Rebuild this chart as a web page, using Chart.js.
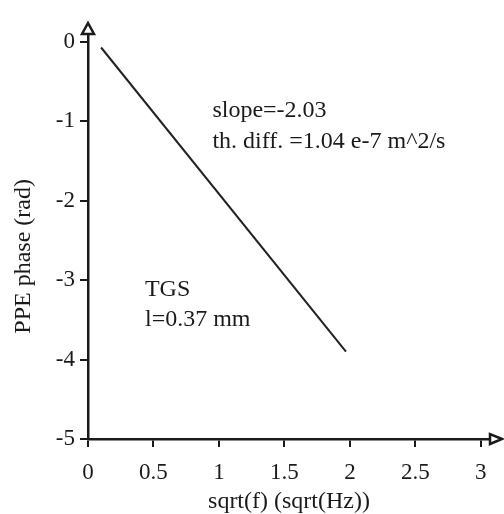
<!DOCTYPE html>
<html>
<head>
<meta charset="utf-8">
<script src="https://cdn.jsdelivr.net/npm/chart.js@4/dist/chart.umd.min.js"></script>
<style>
  html, body { margin: 0; padding: 0; background: #fff; }
  #wrap { width: 504px; height: 514px; }
</style>
</head>
<body>
<div id="wrap"><canvas id="chart-phase"></canvas></div>
<script>
// data
const sqrtFreq = [0.1, 1.97];
const phase = [-0.07, -3.9];
const xTicks = [0, 0.5, 1, 1.5, 2, 2.5, 3];
const xTickLabels = ['0', '0.5', '1', '1.5', '2', '2.5', '3'];
const yTicks = [0, -1, -2, -3, -4, -5];
const yTickLabels = ['0', '-1', '-2', '-3', '-4', '-5'];
const yTitle = 'PPE phase (rad)';
const notes = [
    { x: 0.95, y: -0.86, text: 'slope=-2.03' },
    { x: 0.95, y: -1.26, text: 'th. diff. =1.04 e-7 m^2/s' },
    { x: 0.435, y: -3.12, text: 'TGS' },
    { x: 0.435, y: -3.5, text: 'l=0.37 mm' }
];

const FONT = '"Liberation Serif", "Times New Roman", serif';
const INK = '#1a1a1a';

// arrow heads on the axes, y title (sits a bit low in the original) and notes
const decorations = {
    id: 'decorations',
    afterDraw(chart) {
        const c = chart.ctx;
        const a = chart.chartArea;
        const xs = chart.scales.x, ys = chart.scales.y;
        c.save();
        c.strokeStyle = INK;
        c.lineWidth = 2.5;
        c.fillStyle = '#fff';
        // y arrow
        c.beginPath();
        c.moveTo(a.left, a.top - 11);
        c.lineTo(a.left - 6, a.top);
        c.lineTo(a.left + 6, a.top);
        c.closePath();
        c.fill();
        c.stroke();
        // x arrow
        c.beginPath();
        c.moveTo(a.right + 12, a.bottom);
        c.lineTo(a.right, a.bottom - 5);
        c.lineTo(a.right, a.bottom + 5);
        c.closePath();
        c.fill();
        c.stroke();

        c.fillStyle = INK;
        c.font = '24px ' + FONT;
        c.textBaseline = 'middle';
        c.textAlign = 'left';
        notes.forEach(n => {
            c.fillText(n.text, xs.getPixelForValue(n.x), ys.getPixelForValue(n.y));
        });

        c.translate(24, ys.getPixelForValue(-2.7));
        c.rotate(-Math.PI / 2);
        c.textAlign = 'center';
        c.fillText(yTitle, 0, 0);
        c.restore();
    }
};

const tickFont = { family: FONT, size: 23 };
const titleFont = { family: FONT, size: 24, lineHeight: 1 };

new Chart(document.getElementById('chart-phase'), {
    type: 'scatter',
    data: {
        datasets: [{
            data: sqrtFreq.map((x, i) => ({ x: x, y: phase[i] })),
            showLine: true,
            borderColor: '#222',
            borderWidth: 2,
            pointRadius: 0
        }]
    },
    options: {
        responsive: true,
        maintainAspectRatio: false,
        animation: false,
        layout: { padding: { top: 34, right: 14, left: 0, bottom: 0 } },
        plugins: { legend: { display: false }, tooltip: { enabled: false } },
        scales: {
            x: {
                type: 'linear',
                min: 0,
                max: 3.07,
                afterBuildTicks: s => { s.ticks = xTicks.map(v => ({ value: v })); },
                afterFit: s => { s.height = 75; },
                border: { display: true, color: INK, width: 2.5 },
                grid: { drawOnChartArea: false, drawTicks: true, tickLength: 8, color: INK, lineWidth: 2 },
                ticks: {
                    color: INK, font: tickFont, padding: 12, maxRotation: 0,
                    callback: (v, i) => xTickLabels[i]
                },
                title: { display: true, text: 'sqrt(f) (sqrt(Hz))', color: INK, font: titleFont, padding: { top: 0, bottom: 0 } }
            },
            y: {
                type: 'linear',
                min: -5,
                max: 0.1,
                afterBuildTicks: s => { s.ticks = yTicks.map(v => ({ value: v })); },
                afterFit: s => { s.width = 88; },
                border: { display: true, color: INK, width: 2.5 },
                grid: { drawOnChartArea: false, drawTicks: true, tickLength: 8, color: INK, lineWidth: 2 },
                ticks: {
                    color: INK, font: tickFont, padding: 5,
                    callback: (v, i) => yTickLabels[i]
                }
            }
        }
    },
    plugins: [decorations]
});
</script>
</body>
</html>
